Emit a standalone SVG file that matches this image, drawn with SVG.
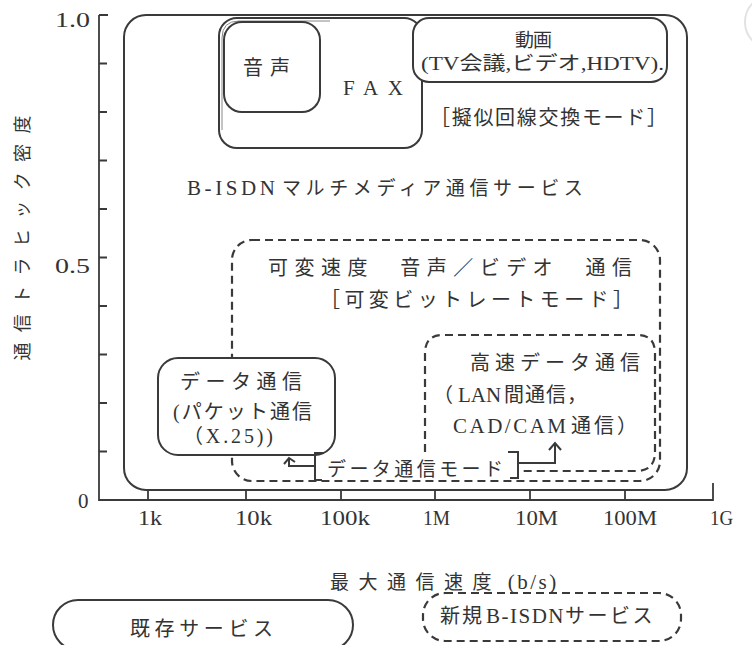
<svg xmlns="http://www.w3.org/2000/svg" width="752" height="645" viewBox="0 0 752 645">
<defs>
<style>
.t{font-family:"Liberation Serif","Noto Sans CJK JP",serif;fill:#333;}
.s{fill:none;stroke:#3a3a3a;stroke-width:2;}
.w{fill:#fff;stroke:#3a3a3a;stroke-width:2;}
.d{fill:none;stroke:#3a3a3a;stroke-width:2.2;stroke-dasharray:8 5;}
.ax{fill:none;stroke:#3a3a3a;stroke-width:1.8;}
</style>
</defs>
<rect width="752" height="645" fill="#fff"/>
<circle cx="772" cy="22" r="27" fill="none" stroke="#e2e2e2" stroke-width="2"/>

<g id="axes">
<path class="ax" d="M99,15 V500 H713 V483"/>
<path class="ax" d="M99,15 H108 M99,63.5 H107 M99,112 H107 M99,160.5 H107 M99,209 H107 M99,257.5 H107 M99,306 H107 M99,354.5 H107 M99,403 H107 M99,451.5 H107"/>
<path class="ax" d="M148,500 V490 M246,500 V490 M341,500 V490 M435,500 V490 M530,500 V490 M625,500 V490"/>
<text class="t" x="55" y="27" font-size="21" textLength="35" lengthAdjust="spacingAndGlyphs">1.0</text>
<text class="t" x="55" y="273" font-size="21" textLength="35" lengthAdjust="spacingAndGlyphs">0.5</text>
<text class="t" x="78" y="508" font-size="21">0</text>
<text class="t" x="138" y="525" font-size="20" textLength="24" lengthAdjust="spacingAndGlyphs">1k</text>
<text class="t" x="235" y="525" font-size="20" textLength="37" lengthAdjust="spacingAndGlyphs">10k</text>
<text class="t" x="320" y="525" font-size="20" textLength="50" lengthAdjust="spacingAndGlyphs">100k</text>
<text class="t" x="423" y="525" font-size="20" textLength="27" lengthAdjust="spacingAndGlyphs">1M</text>
<text class="t" x="515" y="525" font-size="20" textLength="43" lengthAdjust="spacingAndGlyphs">10M</text>
<text class="t" x="603" y="525" font-size="20" textLength="54" lengthAdjust="spacingAndGlyphs">100M</text>
<text class="t" x="710" y="525" font-size="20" textLength="23" lengthAdjust="spacingAndGlyphs">1G</text>
<text class="t" y="589" font-size="19"><tspan x="330" letter-spacing="9.5">最大通信速度</tspan><tspan x="500" font-size="21" letter-spacing="2.5"> (b/s)</tspan></text>
<text class="t" transform="translate(29,238) rotate(-90)" x="0" y="0" font-size="18" text-anchor="middle" textLength="245" lengthAdjust="spacing">通信トラヒック密度</text>
</g>

<g id="bisdn-multimedia">
<rect class="s" x="124" y="15" width="563" height="475" rx="22"/>
<text class="t" y="195" font-size="19"><tspan x="187" font-size="21" letter-spacing="3.6">B-ISDN</tspan><tspan x="282" letter-spacing="4.6">マルチメディア通信サービス</tspan></text>
</g>

<g id="fax">
<rect class="s" x="219" y="18" width="203" height="130" rx="18"/>
<path fill="none" stroke="#888" stroke-width="1" d="M222,130 V38 Q222,21 239,21 H330"/>
<text class="t" x="343" y="95" font-size="21" textLength="60" lengthAdjust="spacing">FAX</text>
</g>

<g id="voice">
<rect class="s" x="224" y="22" width="96" height="90" rx="18"/>
<text class="t" x="243" y="75" font-size="20" textLength="47" lengthAdjust="spacing">音声</text>
</g>

<g id="video">
<rect class="w" x="413" y="18" width="254" height="64" rx="16"/>
<text class="t" x="515" y="47" font-size="19" textLength="37" lengthAdjust="spacing">動画</text>
<text class="t" x="421" y="70" font-size="19" textLength="243" lengthAdjust="spacingAndGlyphs">(TV会議,ビデオ,HDTV).</text>
</g>

<g id="circuit-mode">
<text class="t" x="430" y="125" font-size="20" textLength="237" lengthAdjust="spacing">［擬似回線交換モード］</text>
</g>

<g id="variable-rate">
<rect class="d" x="232" y="240" width="428" height="241" rx="20"/>
<text class="t" x="268" y="275" font-size="20" textLength="364" lengthAdjust="spacing">可変速度　音声／ビデオ　通信</text>
<text class="t" x="320" y="307" font-size="20" textLength="313" lengthAdjust="spacing">［可変ビットレートモード］</text>
</g>

<g id="high-speed-data">
<path class="d" d="M425,452 V353 Q425,335 443,335 H637 Q655,335 655,353 V452 Q655,471 636,471 H522"/>
<text class="t" x="470" y="370" font-size="20" textLength="170" lengthAdjust="spacing">高速データ通信</text>
<text class="t" y="402" font-size="20"><tspan x="433">（</tspan><tspan x="458" font-size="21">LAN</tspan><tspan x="504" letter-spacing="1">間通信，</tspan></text>
<text class="t" y="433" font-size="20"><tspan x="453" font-size="21" letter-spacing="2.5">CAD/CAM</tspan><tspan x="571" letter-spacing="3">通信）</tspan></text>
</g>

<g id="data-comm">
<rect class="w" x="158" y="358" width="177" height="97" rx="20"/>
<text class="t" x="180" y="389" font-size="20" textLength="122" lengthAdjust="spacing">データ通信</text>
<text class="t" x="173" y="419" font-size="20" textLength="139" lengthAdjust="spacing">(パケット通信</text>
<text class="t" x="183" y="443" font-size="20" textLength="90" lengthAdjust="spacing">（X.25))</text>
</g>

<g id="data-mode">
<path class="s" d="M324,453 H315 V480 H322 M508,452 H518 V478 H510"/>
<text class="t" x="327" y="476" font-size="19" textLength="176" lengthAdjust="spacing">データ通信モード</text>
</g>

<g id="connectors">
<path class="s" d="M518,463 H555 V443"/>
<path class="s" d="M549,450 L555,443 L561,450"/>
<path class="s" d="M314,466 H289 V459"/>
<path class="s" d="M284,464 L289,458 L295,462"/>
</g>

<g id="legend-existing">
<rect class="s" x="53" y="600" width="300" height="50" rx="25"/>
<text class="t" x="130" y="636" font-size="20" textLength="143" lengthAdjust="spacing">既存サービス</text>
</g>

<g id="legend-new">
<rect class="d" x="423" y="593" width="258" height="48" rx="22"/>
<text class="t" y="623" font-size="20"><tspan x="440" letter-spacing="2">新規</tspan><tspan x="486" font-size="21" letter-spacing="1.5">B-ISDN</tspan><tspan x="565" letter-spacing="2.5">サービス</tspan></text>
</g>
</svg>
